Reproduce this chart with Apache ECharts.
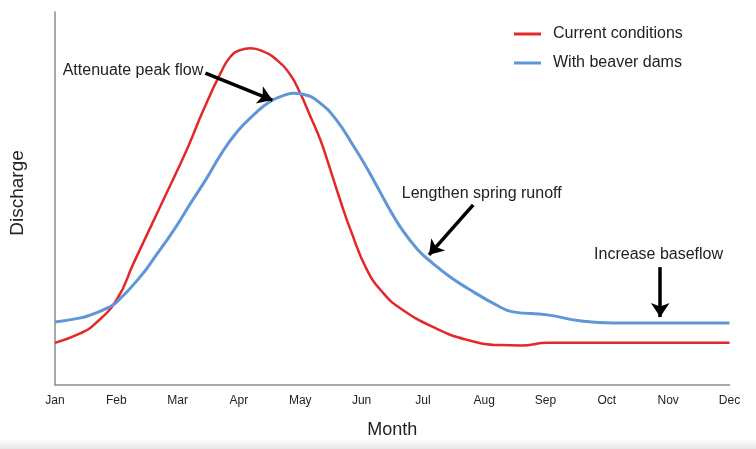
<!DOCTYPE html>
<html><head><meta charset="utf-8">
<script src="https://cdn.jsdelivr.net/npm/echarts@6/dist/echarts.min.js"></script>
<style>html,body{margin:0;padding:0;background:#fff}#c{width:756px;height:449px}</style>
</head><body><div id="c"></div>
<script>
// Month labels (x = 0 for Jan ... 11 for Dec)
const monthLabels = ['Jan','Feb','Mar','Apr','May','Jun','Jul','Aug','Sep','Oct','Nov','Dec'];

// Current conditions: month position and relative discharge
const currentMonth = [0, 0.42, 0.66, 1.01, 1.28, 1.56, 1.83, 2.16, 2.42, 2.70, 2.86, 3.02, 3.19, 3.40, 3.62, 3.84, 4.00, 4.16, 4.33, 4.44, 4.65, 4.82, 5.09, 5.35, 5.63, 6.17, 6.72, 7.26, 7.6, 8.03, 9.0, 10.0, 11];
const currentFlow  = [11.3, 13.9, 16.5, 23.0, 32.6, 42.4, 51.8, 63.5, 73.7, 83.6, 88.0, 89.8, 90.3, 89.4, 87.1, 83.1, 78.2, 72.2, 65.6, 60.3, 49.6, 41.6, 30.8, 24.7, 20.6, 15.5, 12.1, 10.7, 10.6, 11.3, 11.3, 11.3, 11.3];

// With beaver dams
const beaverMonth = [0, 0.42, 0.58, 0.85, 1.01, 1.39, 1.67, 1.94, 2.21, 2.48, 2.70, 2.97, 3.24, 3.51, 3.78, 3.89, 4.06, 4.33, 4.60, 4.87, 5.05, 5.24, 5.44, 5.63, 5.91, 6.17, 6.44, 6.72, 7.26, 7.47, 8.03, 8.56, 9.10, 10.0, 11];
const beaverFlow  = [16.9, 18.0, 18.8, 20.6, 22.3, 29.0, 35.3, 41.6, 48.7, 55.6, 61.7, 67.9, 72.4, 76.0, 77.9, 78.2, 77.9, 75.5, 70.8, 64.0, 59.2, 53.6, 47.6, 42.4, 36.4, 32.5, 29.0, 26.0, 20.9, 19.6, 18.8, 17.2, 16.6, 16.6, 16.6];

// Annotation texts (centre, in data units) and arrows (start -> end, in data units)
const noteTexts  = ['Attenuate peak flow', 'Lengthen spring runoff', 'Increase baseflow'];
const noteTextAt = [[1.271, 84.2], [6.959, 51.2], [9.843, 34.9]];
const arrowFrom  = [[2.453, 83.6], [6.82, 48.3], [9.87, 31.6]];
const arrowTo    = [[3.545, 76.4], [6.10, 34.9], [9.87, 18.2]];

const seriesNames = ['Current conditions', 'With beaver dams'];

const chart = echarts.init(document.getElementById('c'), null, {renderer: 'canvas'});
const pairs = (xs, ys) => xs.map((x, i) => [x, ys[i]]);
const fontFam = 'Liberation Sans, Arial, sans-serif';

chart.setOption({
  animation: false,
  backgroundColor: '#fff',
  grid: {left: 54.5, right: 26.5, top: 12, bottom: 64},
  legend: {
    data: seriesNames,
    orient: 'vertical',
    left: 509, top: 21,
    icon: 'rect', itemWidth: 27, itemHeight: 3, itemGap: 13,
    textStyle: {fontFamily: fontFam, fontSize: 16, color: '#222', padding: [0, 0, 0, 7]}
  },
  xAxis: {
    type: 'value', min: 0, max: 11, interval: 1,
    axisLine: {show: true, lineStyle: {color: '#8c8c8c', width: 1.5}},
    axisTick: {show: false}, splitLine: {show: false},
    axisLabel: {formatter: v => monthLabels[v] || '', fontFamily: 'Liberation Sans Narrow, Arial Narrow, Liberation Sans, sans-serif', fontSize: 12, color: '#222', margin: 10},
    name: 'Month', nameLocation: 'middle', nameGap: 36,
    nameTextStyle: {fontFamily: fontFam, fontSize: 18, color: '#222'}
  },
  yAxis: {
    type: 'value', min: 0, max: 100,
    axisLine: {show: true, lineStyle: {color: '#8c8c8c', width: 1.5}},
    axisTick: {show: false}, axisLabel: {show: false}, splitLine: {show: false},
    name: 'Discharge', nameLocation: 'middle', nameGap: 28,
    nameTextStyle: {fontFamily: fontFam, fontSize: 19, color: '#222', padding: [0, 0, 0, 11]}
  },
  series: [
    {
      name: seriesNames[0], type: 'line', data: pairs(currentMonth, currentFlow),
      smooth: 0.5, showSymbol: false, symbol: 'none',
      lineStyle: {color: '#e3282a', width: 2.5}, itemStyle: {color: '#e3282a'},
      markLine: {
        silent: true, symbol: ['none', 'arrow'], symbolSize: 14,
        lineStyle: {color: '#000', width: 3.5, type: 'solid'},
        label: {show: false},
        data: arrowFrom.map((f, i) => [{coord: f}, {coord: arrowTo[i]}])
      },
      markPoint: {
        silent: true, symbol: 'rect', symbolSize: 1,
        itemStyle: {color: 'rgba(0,0,0,0)'},
        label: {show: true, position: 'inside', formatter: p => p.name, fontFamily: fontFam, fontSize: 16, color: '#222'},
        data: noteTexts.map((t, i) => ({name: t, coord: noteTextAt[i]}))
      }
    },
    {
      name: seriesNames[1], type: 'line', data: pairs(beaverMonth, beaverFlow),
      smooth: 0.5, showSymbol: false, symbol: 'none',
      lineStyle: {color: '#5f97d6', width: 3}, itemStyle: {color: '#5f97d6'}
    }
  ],
  graphic: [{
    type: 'rect', left: 0, bottom: 0, silent: true, z: -1,
    shape: {width: 756, height: 10},
    style: {fill: new echarts.graphic.LinearGradient(0, 0, 0, 1, [{offset: 0, color: '#ffffff'}, {offset: 1, color: '#e6e6e6'}])}
  }]
});
</script></body></html>
